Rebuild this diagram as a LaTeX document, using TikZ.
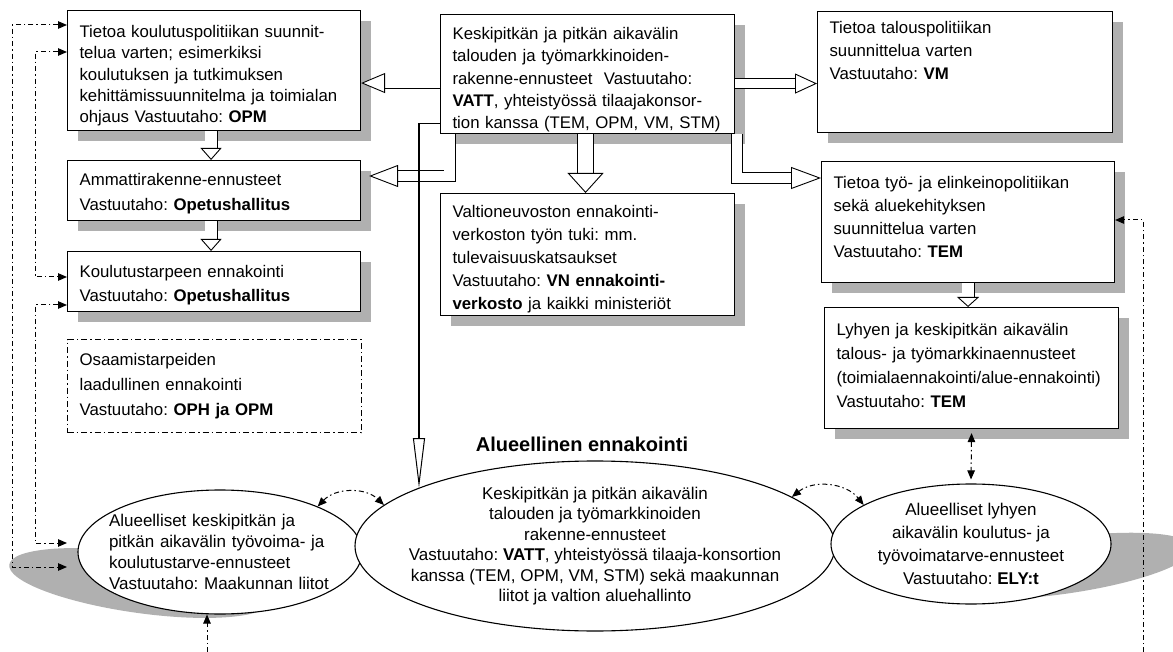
\documentclass[tikz,border=0pt]{standalone}
\usepackage{fontspec}
\setmainfont{Liberation Sans}
\usetikzlibrary{arrows.meta,shapes.geometric,shadows}
\frenchspacing

\definecolor{shadowgray}{RGB}{176,176,176}

\tikzset{
  >={Triangle[length=9pt,width=7.5pt]},
  boxbase/.style={draw, line width=1.1pt, fill=white, anchor=north west,
    align=left, inner xsep=12pt, inner ysep=0pt,
    font=\fontsize{16.8}{#1}\selectfont},
  boxbase/.default=23pt,
  infobox/.style={boxbase=#1,
    drop shadow={shadow xshift=10pt, shadow yshift=-10pt, fill=shadowgray, opacity=1}},
  infobox/.default=23pt,
  openbox/.style={boxbase=#1, dash pattern=on 6pt off 3pt on 1.5pt off 3pt},
  openbox/.default=25pt,
  region/.style={ellipse, draw, line width=1.1pt, fill=white, inner sep=-30pt,
    align=center, font=\fontsize{17}{#1}\selectfont},
  region/.default=20.5pt,
  flow/.style={line width=1pt, dash pattern=on 5pt off 3pt on 1.5pt off 3pt},
  blockarrow/.style n args={3}{line width=0.9pt, double=white, double distance=#1,
    -{Triangle[open, fill=white, line width=0.9pt, width=#2, length=#3]}},
}

\begin{document}
\begin{tikzpicture}[x=1pt, y=-1pt]
  \useasboundingbox (0,0) rectangle (1173,652);
  \fill[white] (0,0) rectangle (1173,652);

  \fill[shadowgray, rotate around={-8:(140,583)}]
    (140,583) ellipse [x radius=132, y radius=30];
  \fill[shadowgray, rotate around={8:(1062,566)}]
    (1062,566) ellipse [x radius=132, y radius=28];

  \node[infobox=21.3pt, minimum width=293pt, text width=269pt,
    text height=27pt, text depth=93pt] (koulpol) at (67,10)
    {Tietoa koulutuspolitiikan suunnit-\\ telua varten; esimerkiksi\\
     koulutuksen ja tutkimuksen\\ kehittämissuunnitelma ja toimialan\\
     ohjaus Vastuutaho: \textbf{OPM}};
  \node[infobox=24.5pt, minimum width=293pt, text width=269pt,
    text height=25pt, text depth=35pt] (ammatti) at (67,160)
    {Ammattirakenne-ennusteet\\ Vastuutaho: \textbf{Opetushallitus}};
  \node[infobox=24pt, minimum width=293pt, text width=269pt,
    text height=26pt, text depth=34pt] (koulutarve) at (67,251)
    {Koulutustarpeen ennakointi\\ Vastuutaho: \textbf{Opetushallitus}};
  \node[openbox=25pt, minimum width=294pt, text width=270pt,
    text height=26pt, text depth=67pt] (osaaminen) at (67,339)
    {Osaamistarpeiden\\ laadullinen ennakointi\\ Vastuutaho: \textbf{OPH ja OPM}};

  \node[infobox=22.3pt, minimum width=294pt, text width=270pt,
    text height=25pt, text depth=94pt] (rakenne) at (440,14)
    {Keskipitkän ja pitkän aikavälin\\ talouden ja työmarkkinoiden-\\
     rakenne-ennusteet\ \ Vastuutaho:\\ \textbf{VATT}, yhteistyössä tilaajakonsor-\\
     tion kanssa (TEM, OPM, VM, STM)};
  \node[infobox=23pt, minimum width=294pt, text width=270pt,
    text height=24pt, text depth=98pt] (vnverkosto) at (440,193)
    {Valtioneuvoston ennakointi-\\ verkoston työn tuki: mm.\\ tulevaisuuskatsaukset\\
     Vastuutaho: \textbf{VN ennakointi-}\\ \textbf{verkosto} ja kaikki ministeriöt};

  \node[infobox=23pt, minimum width=295pt, text width=271pt,
    text height=22pt, text depth=99pt] (talouspol) at (817,11)
    {Tietoa talouspolitiikan\\ suunnittelua varten\\ Vastuutaho: \textbf{VM}};
  \node[infobox=23pt, minimum width=293pt, text width=269pt,
    text height=27pt, text depth=94pt] (tyopol) at (821,161)
    {Tietoa työ- ja elinkeinopolitiikan\\ sekä aluekehityksen\\
     suunnittelua varten\\ Vastuutaho: \textbf{TEM}};
  \node[infobox=24pt, minimum width=294pt, text width=270pt,
    text height=28pt, text depth=93pt] (lyhyt) at (824,307)
    {Lyhyen ja keskipitkän aikavälin\\ talous- ja työmarkkinaennusteet\\
     (toimialaennakointi/alue-ennakointi)\\ Vastuutaho: \textbf{TEM}};

  \node[font=\fontsize{20}{24}\selectfont\bfseries] (otsikko) at (582,444)
    {Alueellinen ennakointi};

  \node[region=21pt, align=left, text width=222pt, minimum width=284pt,
    minimum height=124pt] (leftreg) at (220,552)
    {Alueelliset keskipitkän ja\\ pitkän aikavälin työvoima- ja\\
     koulutustarve-ennusteet\\ Vastuutaho: Maakunnan liitot};
  \node[region, minimum width=480pt, minimum height=170pt] (midreg) at (595,546)
    {Keskipitkän ja pitkän aikavälin\\ talouden ja työmarkkinoiden\\
     rakenne-ennusteet\\ Vastuutaho: \textbf{VATT}, yhteistyössä tilaaja-konsortion\\
     kanssa (TEM, OPM, VM, STM) sekä maakunnan\\ liitot ja valtion aluehallinto};
  \node[region=23pt, minimum width=280pt, minimum height=120pt] (rightreg) at (971,544)
    {Alueelliset lyhyen\\ aikavälin koulutus- ja\\ työvoimatarve-ennusteet\\
     Vastuutaho: \textbf{ELY:t}};

  \coordinate (regtop) at (419,488);
  \coordinate (railout) at (12,567);
  \coordinate (railmid) at (35,277);
  \coordinate (raillow) at (35,543);
  \coordinate (leftfoot) at (207,652);
  \coordinate (rightfoot) at (1143,652);

  \draw[blockarrow={9.2pt}{20pt}{24pt}]
    ([yshift=-9pt]rakenne.west) -- ([yshift=-9pt]rakenne.west -| koulpol.east);
  \draw[blockarrow={9.2pt}{20pt}{22pt}]
    ([yshift=-9.5pt]rakenne.east) -- ([yshift=-9.5pt]rakenne.east -| talouspol.west);
  \draw[blockarrow={11.2pt}{21pt}{12pt}]
    ([xshift=-3pt]koulpol.south) -- ([xshift=-3pt]ammatti.north);
  \draw[blockarrow={11.2pt}{21pt}{12pt}]
    ([xshift=-3pt]ammatti.south) -- ([xshift=-3pt]koulutarve.north);
  \draw[blockarrow={15.2pt}{36pt}{20pt}]
    ([xshift=-2pt]rakenne.south) -- ([xshift=-2pt]vnverkosto.north);
  \draw[blockarrow={11.2pt}{22pt}{10pt}] (tyopol.south) -- (tyopol.south |- lyhyt.north);
  \draw[blockarrow={10.2pt}{22pt}{29pt}]
    ([xshift=9.5pt]rakenne.south west) |- ([xshift=8pt,yshift=-16pt]ammatti.north east);
  \draw[blockarrow={10.2pt}{22pt}{30pt}]
    ([xshift=2pt]rakenne.south east) |- ([yshift=-17pt]tyopol.north west);

  \draw[line width=1.1pt, -{Triangle[open, fill=white, length=50pt, width=12pt, line width=1pt]}]
    ([yshift=11pt]rakenne.south west) -| (regtop);

  \draw[flow, <->] ([yshift=-15pt]koulpol.north west) -| (railout)
    -- (railout -| koulpol.west);
  \draw[flow, <->] ([yshift=-42pt]koulpol.north west) -| (railmid)
    -- (railmid -| koulutarve.west);
  \draw[flow, <->] ([yshift=-54pt]koulutarve.north west) -| (raillow)
    -- (raillow -| koulutarve.west);
  \draw[flow, ->] (leftfoot) -- (leftfoot |- leftreg.south);
  \draw[flow, ->] (rightfoot) |- ([yshift=-59pt]tyopol.north east);
  \draw[flow, <->] ([yshift=-4pt]lyhyt.south) -- ([yshift=4pt]rightreg.north);
  \draw[flow, <->] (leftreg.25) to[bend left=45] (midreg.169);
  \draw[flow, <->] (midreg.14) to[bend left=45] (rightreg.160);
\end{tikzpicture}
\end{document}
